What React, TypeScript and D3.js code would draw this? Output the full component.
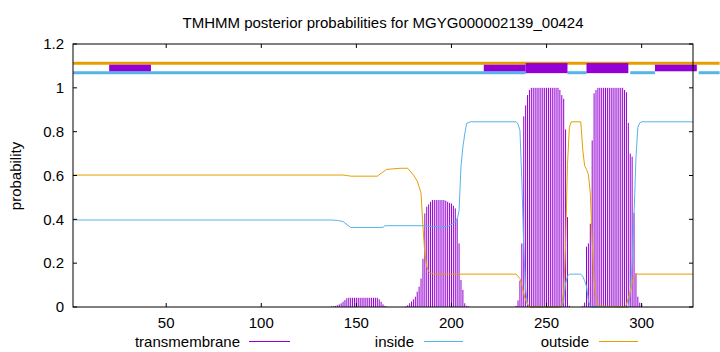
import React from 'react';
import * as d3 from 'd3';

const W = 720;
const H = 352;
const PLOT = { left: 73, right: 693, top: 44, bottom: 307 };

const TITLE = 'TMHMM posterior probabilities for MGYG000002139_00424';
const Y_LABEL = 'probability';
const X_DOMAIN = [1, 327];
const Y_DOMAIN = [0, 1.2];
const X_TICKS = [50, 100, 150, 200, 250, 300];
const Y_TICKS = [0, 0.2, 0.4, 0.6, 0.8, 1.0, 1.2];
const Y_TICK_LABELS = ['0', '0.2', '0.4', '0.6', '0.8', '1', '1.2'];

const SERIES_NAMES = ['transmembrane', 'inside', 'outside'];
const SERIES_COLORS = ['#9400d3', '#56b4e9', '#e69f00'];

// inside posterior (breakpoints: residue, probability)
const INSIDE_RES = [1, 137, 140, 143, 147, 164, 165, 185, 190, 198, 201, 203, 204, 205, 206, 207, 208, 210, 234, 235, 236, 237, 238, 239, 240, 241, 258, 259, 260, 261, 262, 268, 269, 270, 271, 272, 273, 293, 294, 295, 296, 297, 298, 299, 300, 327];
const INSIDE_VAL = [0.397, 0.397, 0.395, 0.39, 0.363, 0.363, 0.371, 0.371, 0.367, 0.367, 0.382, 0.397, 0.44, 0.64, 0.73, 0.79, 0.838, 0.845, 0.845, 0.835, 0.807, 0.58, 0.275, 0.078, 0.01, 0, 0, 0.03, 0.108, 0.14, 0.15, 0.15, 0.14, 0.12, 0.094, 0.03, 0, 0, 0.06, 0.2, 0.42, 0.68, 0.82, 0.84, 0.845, 0.845];

// outside posterior (breakpoints: residue, probability)
const OUTSIDE_RES = [1, 143, 145, 147, 161, 163, 166, 173, 177, 180, 182, 184, 185, 186, 187, 188, 189, 191, 234, 236, 237, 238, 239, 241, 257, 258, 259, 260, 261, 262, 263, 268, 269, 270, 271, 272, 273, 274, 275, 276, 277, 291, 292, 293, 294, 295, 296, 297, 327];
const OUTSIDE_VAL = [0.602, 0.602, 0.6, 0.597, 0.597, 0.61, 0.628, 0.633, 0.633, 0.602, 0.575, 0.52, 0.366, 0.245, 0.184, 0.162, 0.155, 0.15, 0.15, 0.13, 0.1, 0.062, 0.03, 0, 0, 0.01, 0.07, 0.28, 0.65, 0.82, 0.845, 0.845, 0.72, 0.645, 0.628, 0.605, 0.52, 0.3, 0.12, 0.04, 0.005, 0, 0.01, 0.04, 0.07, 0.11, 0.14, 0.15, 0.15];

// transmembrane posterior, one value per residue starting at TM_START
const TM_START = 136;
const TM_VAL = [
  0, 0.002, 0.003, 0.005, 0.008, 0.012, 0.017, 0.024, 0.032, 0.04, // 136-145
  0.042, 0.042, 0.042, 0.042, 0.042, 0.042, 0.042, 0.042, 0.042, 0.042, // 146-155
  0.042, 0.042, 0.042, 0.042, 0.042, 0.042, 0.035, 0.024, 0.012, 0.005, // 156-165
  0.002, 0, 0, 0, 0, 0, 0, 0, 0, 0, // 166-175
  0.003, 0.008, 0.017, 0.025, 0.035, 0.047, 0.07, 0.093, 0.13, 0.22, // 176-185
  0.427, 0.458, 0.468, 0.48, 0.488, 0.488, 0.488, 0.488, 0.488, 0.488, // 186-195
  0.488, 0.485, 0.48, 0.475, 0.472, 0.462, 0.45, 0.405, 0.29, 0.123, // 196-205
  0.078, 0.017, 0.005, 0.002, 0, 0, 0, 0, 0, 0, // 206-215
  0, 0, 0, 0, 0, 0, 0, 0, 0, 0, // 216-225
  0, 0, 0, 0, 0, 0, 0, 0, 0.005, 0.03, // 226-235
  0.12, 0.29, 0.87, 0.92, 0.967, 0.99, 1, 1, 1, 1, // 236-245
  1, 1, 1, 1, 1, 1, 1, 1, 1, 1, // 246-255
  1, 0.99, 0.967, 0.95, 0.81, 0.41, 0.005, 0, 0, 0, // 256-265
  0, 0, 0, 0.005, 0.02, 0.275, 0.29, 0.38, 0.76, 0.975, // 266-275
  0.99, 1, 1, 1, 1, 1, 1, 1, 1, 1, // 276-285
  1, 1, 1, 1, 1, 0.99, 0.98, 0.84, 0.7, 0.686, // 286-295
  0.43, 0.154, 0.047, 0.02, 0.008, // 296-300
];

// top strip of predicted topology (residue ranges)
const TOP_OUTSIDE = [[1, 341]];
const TOP_INSIDE = [[1, 239], [261, 271], [294, 307], [330, 341]];
const TOP_TM_THICK = [[239, 261], [271, 293]];
const TOP_TM_THIN = [[20, 42], [217, 239], [307, 329]];

const FONT = '"Liberation Sans", Arial, Helvetica, sans-serif';
const FS = 15;

export default function App() {
  const x = d3.scaleLinear().domain(X_DOMAIN).range([PLOT.left, PLOT.right]);
  const y = d3.scaleLinear().domain(Y_DOMAIN).range([PLOT.bottom, PLOT.top]);

  const inside = INSIDE_RES.map((r, i) => [r, INSIDE_VAL[i]] as [number, number]);
  const outside = OUTSIDE_RES.map((r, i) => [r, OUTSIDE_VAL[i]] as [number, number]);
  const line = d3.line<[number, number]>().x(d => x(d[0])).y(d => y(d[1]));

  const tick = 4;
  const legendY = 341.5;
  const legend = [
    { name: SERIES_NAMES[0], color: SERIES_COLORS[0], textEnd: 240, l0: 249, l1: 290 },
    { name: SERIES_NAMES[1], color: SERIES_COLORS[1], textEnd: 414, l0: 424, l1: 463 },
    { name: SERIES_NAMES[2], color: SERIES_COLORS[2], textEnd: 589, l0: 599, l1: 638 },
  ];

  return (
    <svg width={W} height={H} style={{ position: 'absolute', left: 0, top: 0, background: '#fff' }}
      fontFamily={FONT} fontSize={FS}>
      <rect x={0} y={0} width={W} height={H} fill="#fff" />
      <text x={383} y={28} textAnchor="middle">{TITLE}</text>

      {/* top strip */}
      {TOP_OUTSIDE.map(([a, b], i) => (
        <line key={'to' + i} x1={x(a)} x2={x(b)} y1={y(1.112)} y2={y(1.112)} stroke={SERIES_COLORS[2]} strokeWidth={3} />
      ))}
      {TOP_INSIDE.map(([a, b], i) => (
        <line key={'ti' + i} x1={x(a)} x2={x(b)} y1={y(1.069)} y2={y(1.069)} stroke={SERIES_COLORS[1]} strokeWidth={3} />
      ))}
      {TOP_TM_THIN.map(([a, b], i) => (
        <rect key={'tn' + i} x={x(a)} width={x(b) - x(a)} y={y(1.1055)} height={y(1.0755) - y(1.1055)} fill={SERIES_COLORS[0]} />
      ))}
      {TOP_TM_THICK.map(([a, b], i) => (
        <rect key={'tk' + i} x={x(a)} width={x(b) - x(a)} y={y(1.113)} height={y(1.067) - y(1.113)} fill={SERIES_COLORS[0]} />
      ))}

      {/* transmembrane impulses */}
      {TM_VAL.map((v, i) => v > 0 ? (
        <line key={'tm' + i} x1={x(TM_START + i)} x2={x(TM_START + i)} y1={y(0)} y2={y(v)} stroke={SERIES_COLORS[0]} strokeWidth={1} />
      ) : null)}

      <path d={line(inside) || ''} fill="none" stroke={SERIES_COLORS[1]} strokeWidth={1} />
      <path d={line(outside) || ''} fill="none" stroke={SERIES_COLORS[2]} strokeWidth={1} />

      {/* border */}
      <rect x={PLOT.left} y={PLOT.top} width={PLOT.right - PLOT.left} height={PLOT.bottom - PLOT.top} fill="none" stroke="#000" strokeWidth={1} />

      {/* y ticks */}
      {Y_TICKS.map((t, i) => (
        <g key={'yt' + i}>
          <line x1={PLOT.left} x2={PLOT.left + tick} y1={y(t)} y2={y(t)} stroke="#000" />
          <line x1={PLOT.right} x2={PLOT.right - tick} y1={y(t)} y2={y(t)} stroke="#000" />
          <text x={PLOT.left - 9} y={y(t)} dy="0.35em" textAnchor="end">{Y_TICK_LABELS[i]}</text>
        </g>
      ))}
      {/* x ticks */}
      {X_TICKS.map((t, i) => (
        <g key={'xt' + i}>
          <line x1={x(t)} x2={x(t)} y1={PLOT.bottom} y2={PLOT.bottom - tick} stroke="#000" />
          <line x1={x(t)} x2={x(t)} y1={PLOT.top} y2={PLOT.top + tick} stroke="#000" />
          <text x={x(t)} y={PLOT.bottom + 21} textAnchor="middle">{t}</text>
        </g>
      ))}

      <text transform={`translate(21,176) rotate(-90)`} textAnchor="middle">{Y_LABEL}</text>

      {/* legend */}
      {legend.map((l, i) => (
        <g key={'lg' + i}>
          <text x={l.textEnd} y={legendY} dy="0.35em" textAnchor="end">{l.name}</text>
          <line x1={l.l0} x2={l.l1} y1={legendY} y2={legendY} stroke={l.color} strokeWidth={1} />
        </g>
      ))}
    </svg>
  );
}
